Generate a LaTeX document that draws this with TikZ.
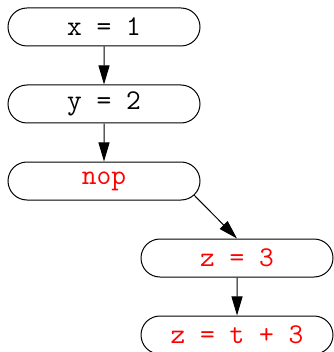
\documentclass[tikz,border=0pt]{standalone}
\usetikzlibrary{shapes.misc,arrows.meta}

\begin{document}
\begin{tikzpicture}[x=0.5pt,y=-0.5pt,
    stmt/.style={rounded rectangle,draw,line width=0.5pt,minimum width=96pt,
      minimum height=19pt,inner sep=0pt,font=\ttfamily\fontsize{14.3}{16}\selectfont},
    flow/.style={line width=0.5pt,-{Triangle[length=9.5pt,width=5.5pt]}}]
  \useasboundingbox (0,0) rectangle (333,352);
  \node[stmt] (x1) at (104,27) {x = 1};
  \node[stmt] (y2) at (104,104) {y = 2};
  \node[stmt,text=red] (nop) at (104,181) {nop};
  \node[stmt,text=red] (z3) at (237,258) {z = 3};
  \node[stmt,text=red] (zt) at (237,335) {z = t + 3};
  \draw[flow] (x1) -- (y2);
  \draw[flow] (y2) -- (nop);
  \draw[flow] (nop.-9) -- (z3.north);
  \draw[flow] (z3) -- (zt);
\end{tikzpicture}
\end{document}
